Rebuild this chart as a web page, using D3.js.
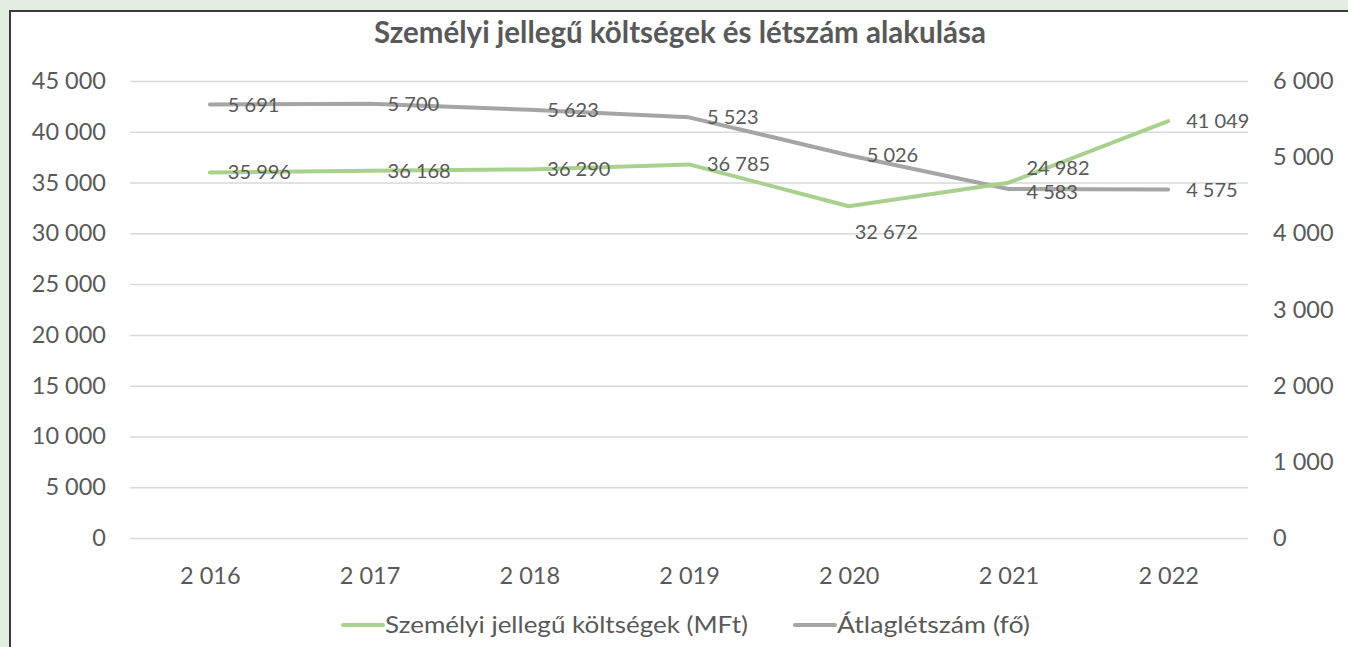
<!DOCTYPE html>
<html>
<head>
<meta charset="utf-8">
<script src="https://cdn.jsdelivr.net/npm/d3@7"></script>
<style>
  html, body { margin: 0; padding: 0; background: #e2eee0; }
  body { width: 1348px; height: 647px; overflow: hidden; position: relative; }
  #card { position: absolute; left: 9px; top: 10px; width: 1345px; height: 645px;
          background: #fff; border: 2px solid #3a3a3a; box-sizing: border-box; }
  svg { position: absolute; left: 0; top: 0; }
  text { font-family: Lato, "Open Sans", sans-serif; fill: #595959; }
</style>
</head>
<body>
<div id="card"></div>
<div id="chart"></div>
<script>
const years = ['2 016', '2 017', '2 018', '2 019', '2 020', '2 021', '2 022'];
const costs = [35996, 36168, 36290, 36785, 32672, 34982, 41049];
const costLabels = ['35 996', '36 168', '36 290', '36 785', '32 672', '24 982', '41 049'];
const headcount = [5691, 5700, 5623, 5523, 5026, 4583, 4575];
const headLabels = ['5 691', '5 700', '5 623', '5 523', '5 026', '4 583', '4 575'];
const leftTicks = [0, 5000, 10000, 15000, 20000, 25000, 30000, 35000, 40000, 45000];
const rightTicks = [0, 1000, 2000, 3000, 4000, 5000, 6000];
const seriesNames = ['Személyi jellegű költségek (MFt)', 'Átlaglétszám (fő)'];

const config = {
  width: 1348, height: 647,
  plot: {left: 130, right: 1248, top: 81, bottom: 538},
  green: '#a9d18e', gray: '#a5a5a5', grid: '#d9d9d9',
  tickSize: '23.5px', labelSize: '20px'
};

const fmt = v => d3.format(',')(v).replace(/,/g, ' ');

const svg = d3.select('#chart').append('svg')
    .attr('width', config.width)
    .attr('height', config.height);

const x = d3.scalePoint()
    .domain(years)
    .range([config.plot.left, config.plot.right])
    .padding(0.5);

const yL = d3.scaleLinear()
    .domain([0, 45000])
    .range([config.plot.bottom, config.plot.top]);

const yR = d3.scaleLinear()
    .domain([0, 6000])
    .range([config.plot.bottom, config.plot.top]);

// title
svg.append('text')
    .attr('x', 680).attr('y', 43)
    .attr('text-anchor', 'middle')
    .style('font-size', '29.5px')
    .style('font-weight', 'bold')
    .text('Személyi jellegű költségek és létszám alakulása');

// gridlines + left axis labels
const leftAxis = svg.append('g')
    .attr('transform', `translate(${config.plot.left},0)`)
    .call(d3.axisLeft(yL).tickValues(leftTicks).tickFormat(fmt)
      .tickSize(-(config.plot.right - config.plot.left)).tickPadding(24));
leftAxis.select('.domain').remove();
leftAxis.selectAll('line').attr('stroke', config.grid).attr('stroke-width', 1.5);
leftAxis.selectAll('text').style('font-size', config.tickSize).style('font-family', 'Lato, sans-serif').attr('fill', '#595959');

// right axis labels
const rightAxis = svg.append('g')
    .attr('transform', `translate(${config.plot.right},0)`)
    .call(d3.axisRight(yR).tickValues(rightTicks).tickFormat(fmt).tickSize(0).tickPadding(25));
rightAxis.select('.domain').remove();
rightAxis.selectAll('text').style('font-size', config.tickSize).style('font-family', 'Lato, sans-serif').attr('fill', '#595959');

// x axis labels
const xAxis = svg.append('g')
    .attr('transform', `translate(0,${config.plot.bottom})`)
    .call(d3.axisBottom(x).tickSize(0).tickPadding(29));
xAxis.select('.domain').remove();
xAxis.selectAll('text').style('font-size', config.tickSize).style('font-family', 'Lato, sans-serif').attr('fill', '#595959');

// lines
const costLine = d3.line().x((d, i) => x(years[i])).y(d => yL(d));
const headLine = d3.line().x((d, i) => x(years[i])).y(d => yR(d));

svg.append('path')
    .datum(headcount)
    .attr('d', headLine)
    .attr('fill', 'none')
    .attr('stroke', config.gray)
    .attr('stroke-width', 4)
    .attr('stroke-linecap', 'round')
    .attr('stroke-linejoin', 'round');

svg.append('path')
    .datum(costs)
    .attr('d', costLine)
    .attr('fill', 'none')
    .attr('stroke', config.green)
    .attr('stroke-width', 4)
    .attr('stroke-linecap', 'round')
    .attr('stroke-linejoin', 'round');

// data labels (right of point, a couple nudged like in the original)
const costNudge = {4: [6, 26], 5: [18, -15]};

svg.append('g').selectAll('text')
    .data(headcount)
    .join('text')
    .attr('x', (d, i) => x(years[i]) + 18)
    .attr('y', (d, i) => yR(d) + (i === 5 ? 3 : 0))
    .attr('dy', '0.35em')
    .style('font-size', config.labelSize)
    .attr('fill', '#404040')
    .text((d, i) => headLabels[i]);

svg.append('g').selectAll('text')
    .data(costs)
    .join('text')
    .attr('x', (d, i) => x(years[i]) + (costNudge[i] ? costNudge[i][0] : 18))
    .attr('y', (d, i) => yL(d) + (costNudge[i] ? costNudge[i][1] : 0))
    .attr('dy', '0.35em')
    .style('font-size', config.labelSize)
    .attr('fill', '#404040')
    .text((d, i) => costLabels[i]);

// legend
const legend = svg.append('g').attr('transform', 'translate(0,625)');
const legendItems = [
  {name: seriesNames[0], color: config.green, x: 343, len: 363},
  {name: seriesNames[1], color: config.gray, x: 795, len: 193}
];
legendItems.forEach(it => {
  legend.append('line')
      .attr('x1', it.x).attr('x2', it.x + 40)
      .attr('y1', 0).attr('y2', 0)
      .attr('stroke', it.color).attr('stroke-width', 4)
      .attr('stroke-linecap', 'round');
  legend.append('text')
      .attr('x', it.x + 42).attr('y', 0)
      .attr('dy', '0.35em')
      .style('font-size', '24px')
      .attr('textLength', it.len)
      .attr('lengthAdjust', 'spacingAndGlyphs')
      .text(it.name);
});
</script>
</body>
</html>
